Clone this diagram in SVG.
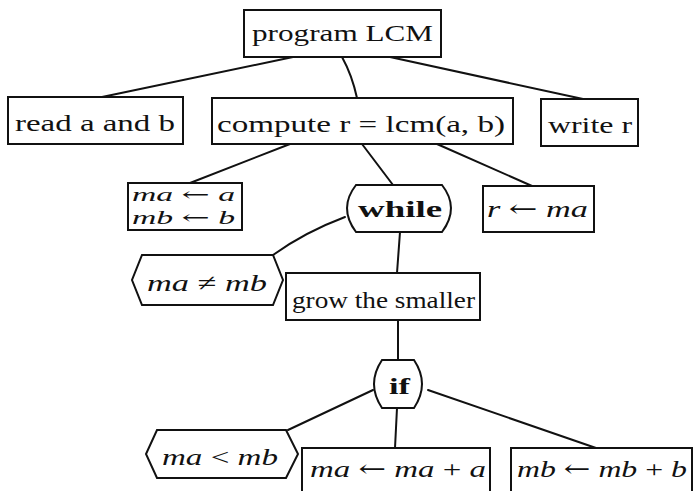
<svg xmlns="http://www.w3.org/2000/svg" width="694" height="491" viewBox="0 0 694 491">
<style>
.b{fill:#fff;stroke:#111;stroke-width:2}
.c{stroke:#111;stroke-width:2;fill:none;stroke-linecap:round}
text{font-family:"Liberation Serif","Times New Roman",serif;font-size:24px;fill:#111}
text.sm{font-size:19px}
.i{font-style:italic}
.bd{font-weight:bold}
.ar{font-family:"DejaVu Serif",serif;font-style:normal}
</style>
<rect width="694" height="491" fill="#fff"/>
<g id="connectors">
<line class="c" x1="293" y1="57" x2="102" y2="97"/>
<path class="c" d="M342,57 Q352,75 357,98"/>
<line class="c" x1="390" y1="57" x2="583" y2="99"/>
<line class="c" x1="290" y1="144" x2="190" y2="183"/>
<line class="c" x1="362" y1="144" x2="393" y2="185"/>
<line class="c" x1="437" y1="144" x2="532" y2="186"/>
<path class="c" d="M345,217 Q305,232 273,255"/>
<line class="c" x1="400" y1="232" x2="397" y2="273"/>
<line class="c" x1="398" y1="320" x2="398" y2="360"/>
<line class="c" x1="373" y1="390" x2="288" y2="430"/>
<line class="c" x1="397" y1="408" x2="395" y2="448"/>
<line class="c" x1="428" y1="390" x2="596" y2="448"/>
</g>
<g id="program">
<rect class="b" x="244" y="10" width="197" height="47"/>
<text x="252" y="41" textLength="181" lengthAdjust="spacingAndGlyphs">program LCM</text>
</g>
<g id="read">
<rect class="b" x="8" y="97" width="175" height="47"/>
<text x="15" y="131" textLength="160" lengthAdjust="spacingAndGlyphs">read a and b</text>
</g>
<g id="compute">
<rect class="b" x="212" y="98" width="301" height="46"/>
<text x="217" y="132" textLength="288" lengthAdjust="spacingAndGlyphs">compute r = lcm(a, b)</text>
</g>
<g id="write">
<rect class="b" x="541" y="99" width="97" height="47"/>
<text x="548" y="133" textLength="84" lengthAdjust="spacingAndGlyphs">write r</text>
</g>
<g id="init">
<rect class="b" x="128" y="183" width="114" height="47"/>
<text class="sm" x="132" y="201" textLength="103" lengthAdjust="spacingAndGlyphs"><tspan class="i">ma</tspan> <tspan class="ar">←</tspan> <tspan class="i">a</tspan></text>
<text class="sm" x="132" y="224" textLength="103" lengthAdjust="spacingAndGlyphs"><tspan class="i">mb</tspan> <tspan class="ar">←</tspan> <tspan class="i">b</tspan></text>
</g>
<g id="while">
<path class="b" d="M356,185 H442 Q460,208 442,232 H356 Q338,208 356,185 Z"/>
<text x="358" y="217" class="bd" textLength="84" lengthAdjust="spacingAndGlyphs">while</text>
</g>
<g id="assign-r">
<rect class="b" x="483" y="186" width="111" height="46"/>
<text x="487" y="217" textLength="101" lengthAdjust="spacingAndGlyphs"><tspan class="i">r</tspan> <tspan class="ar">←</tspan> <tspan class="i">ma</tspan></text>
</g>
<g id="cond-while">
<path class="b" d="M142,255 H273 L283,280 L273,305 H142 L132,280 Z"/>
<text x="147" y="291" textLength="120" lengthAdjust="spacingAndGlyphs"><tspan class="i">ma</tspan> ≠ <tspan class="i">mb</tspan></text>
</g>
<g id="grow">
<rect class="b" x="286" y="273" width="194" height="47"/>
<text x="292" y="308" textLength="183" lengthAdjust="spacingAndGlyphs">grow the smaller</text>
</g>
<g id="if">
<path class="b" d="M382,360 H414 Q430,384 414,408 H382 Q366,384 382,360 Z"/>
<text x="389" y="394" class="bd" textLength="21" lengthAdjust="spacingAndGlyphs">if</text>
</g>
<g id="cond-if">
<path class="b" d="M157,430 H286 L298,454 L286,478 H157 L146,454 Z"/>
<text x="162" y="465" textLength="116" lengthAdjust="spacingAndGlyphs"><tspan class="i">ma</tspan> &lt; <tspan class="i">mb</tspan></text>
</g>
<g id="grow-a">
<rect class="b" x="302" y="448" width="188" height="50"/>
<text x="310" y="477" textLength="176" lengthAdjust="spacingAndGlyphs"><tspan class="i">ma</tspan> <tspan class="ar">←</tspan> <tspan class="i">ma</tspan> + <tspan class="i">a</tspan></text>
</g>
<g id="grow-b">
<rect class="b" x="511" y="448" width="181" height="50"/>
<text x="517" y="477" textLength="170" lengthAdjust="spacingAndGlyphs"><tspan class="i">mb</tspan> <tspan class="ar">←</tspan> <tspan class="i">mb</tspan> + <tspan class="i">b</tspan></text>
</g>
</svg>
